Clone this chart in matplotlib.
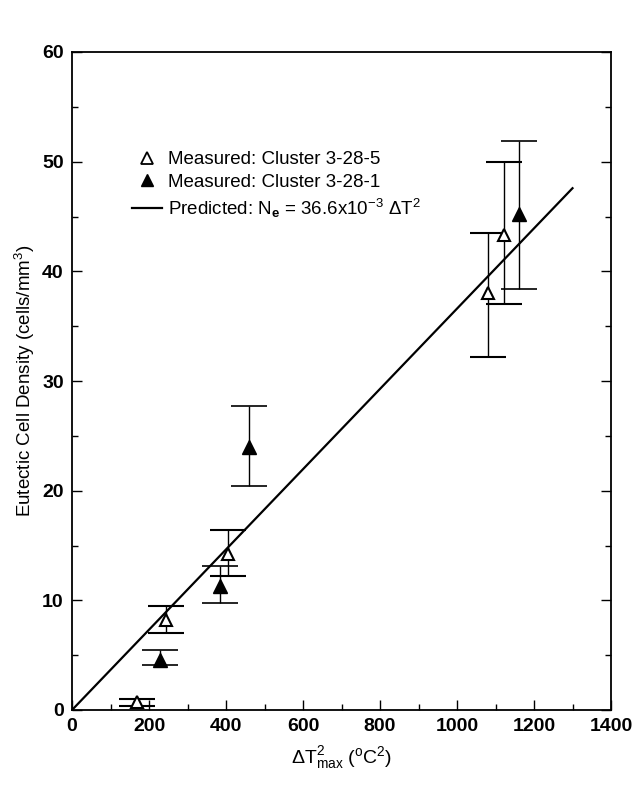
import matplotlib
matplotlib.use("Agg")
import matplotlib.pyplot as plt
import numpy as np

plt.rcParams['font.family'] = ['Liberation Sans', 'DejaVu Sans']
plt.rcParams['mathtext.fontset'] = 'custom'
plt.rcParams['mathtext.rm'] = 'Liberation Sans'
plt.rcParams['mathtext.it'] = 'Liberation Sans:italic'
plt.rcParams['mathtext.bf'] = 'Liberation Sans:bold'

# Measured: Cluster 3-28-5 (open triangles)
x_open = [170, 245, 405, 1080, 1122]
y_open = [0.7, 8.2, 14.2, 38.0, 43.3]
lo_open = [0.4, 7.0, 12.2, 32.2, 37.0]
hi_open = [1.0, 9.5, 16.4, 43.5, 50.0]

# Measured: Cluster 3-28-1 (filled triangles)
x_fill = [228, 385, 460, 1160]
y_fill = [4.6, 11.3, 24.0, 45.2]
lo_fill = [4.1, 9.8, 20.4, 38.4]
hi_fill = [5.5, 13.1, 27.7, 51.9]

# Predicted line
coef = 36.6e-3
x_pred = [0, 1300]

fig = plt.figure(figsize=(6.39, 8.0), dpi=100)
ax = fig.add_axes([0.1127, 0.1125, 0.8435, 0.8225])

yp = [coef * v for v in x_pred]
line, = ax.plot(x_pred, yp, color='black', lw=1.6)

ax.errorbar(x_open, y_open,
            yerr=[np.array(y_open) - np.array(lo_open), np.array(hi_open) - np.array(y_open)],
            fmt='^', mfc='white', mec='black', mew=1.5, ms=9, ecolor='black',
            elinewidth=1.0, capsize=13, capthick=1.2)
ax.errorbar(x_fill, y_fill,
            yerr=[np.array(y_fill) - np.array(lo_fill), np.array(hi_fill) - np.array(y_fill)],
            fmt='^', mfc='black', mec='black', ms=10, ecolor='black',
            elinewidth=1.0, capsize=13, capthick=1.2)

ax.set_xlim(0, 1400)
ax.set_ylim(0, 60)
ax.set_xticks(np.arange(0, 1401, 200))
ax.set_xticks(np.arange(0, 1401, 100), minor=True)
ax.set_yticks(np.arange(0, 61, 10))
ax.set_yticks(np.arange(0, 61, 5), minor=True)
ax.tick_params(direction='in', which='both', top=False, right=True, labelsize=14, width=1)
ax.tick_params(which='major', length=7, pad=6)
ax.tick_params(which='minor', length=4)
for lab in ax.get_xticklabels() + ax.get_yticklabels():
    lab.set_fontweight('bold')
for s in ax.spines.values():
    s.set_linewidth(1.3)

ax.set_xlabel(r'$\Delta$T$^2_{\mathrm{max}}$ ($^{\mathrm{o}}$C$^2$)', fontsize=14, labelpad=6)
ax.set_ylabel(r'Eutectic Cell Density (cells/mm$^3$)', fontsize=13.5)

h1 = ax.errorbar([], [], fmt='^', mfc='white', mec='black', mew=1.3, ms=9)
h2 = ax.errorbar([], [], fmt='^', mfc='black', mec='black', ms=9)
ax.legend([h1, h2, line],
          ['Measured: Cluster 3-28-5', 'Measured: Cluster 3-28-1',
           r'Predicted: N$_{\mathbf{e}}$ = 36.6x10$^{-3}$ $\Delta$T$^2$'],
          loc='upper left', bbox_to_anchor=(0.08, 0.875), frameon=False,
          fontsize=13.5, handlelength=1.6, handletextpad=0.3, labelspacing=0.3)

fig.savefig('out.png', dpi=100)
